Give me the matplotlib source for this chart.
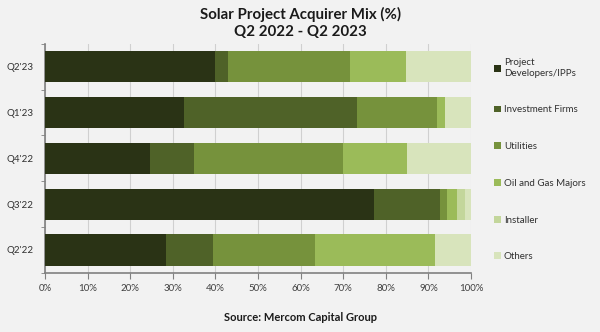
import numpy as np
import matplotlib.pyplot as plt
from matplotlib.ticker import FixedLocator

# Dados (% por trimestre), de baixo para cima
trimestres = ["Q2'22", "Q3'22", "Q4'22", "Q1'23", "Q2'23"]
developers = [28.4, 77.3, 24.6, 32.6, 40.0]
investment = [11.0, 15.4, 10.3, 40.6, 3.0]
utilities = [24.0, 1.7, 35.0, 18.8, 28.6]
oil_gas = [28.2, 2.3, 15.1, 1.8, 13.1]
installer = [0.0, 1.8, 0.0, 0.0, 0.0]
others = [8.4, 1.5, 15.0, 6.2, 15.3]

series = [developers, investment, utilities, oil_gas, installer, others]
nomes = ['Project\nDevelopers/IPPs', 'Investment Firms', 'Utilities',
         'Oil and Gas Majors', 'Installer', 'Others']
cores = ['#2a3315', '#4f6228', '#76923c', '#9bbb59', '#c3d69b', '#d8e4bc']
ticks_x = np.arange(0, 101, 10)

plt.rcParams['font.family'] = ['Lato', 'DejaVu Sans']

fig = plt.figure(figsize=(6, 3.32), dpi=100, facecolor='#f2f2f2')
ax = fig.add_axes([0.075, 0.178, 0.71, 0.69])
ax.set_facecolor('#f2f2f2')

y = np.arange(len(trimestres))
base = np.zeros(len(trimestres))
for vals, nome, cor in zip(series, nomes, cores):
    ax.barh(y, vals, left=base, height=0.68, color=cor, label=nome, zorder=3)
    base += np.array(vals)

ax.set_xlim(0, 100)
ax.set_ylim(-0.5, len(trimestres) - 0.5)
ax.set_xticks(ticks_x)
ax.set_xticklabels([f'{t}%' for t in ticks_x], fontsize=7, color='#404040')
ax.set_yticks(y)
ax.set_yticklabels(trimestres, fontsize=7, color='#303030')
ax.yaxis.set_minor_locator(FixedLocator(np.arange(-0.5, len(trimestres), 1)))
ax.tick_params(axis='y', which='major', length=0, pad=8)
ax.tick_params(axis='y', which='minor', length=3, color='#808080')
ax.tick_params(axis='x', length=4, color='#808080', pad=4)
ax.grid(axis='x', color='#d0d0d0', linewidth=0.8, zorder=0)

for lado in ['top', 'right']:
    ax.spines[lado].set_visible(False)
for lado in ['left', 'bottom']:
    ax.spines[lado].set_color('#808080')
    ax.spines[lado].set_linewidth(1.2)

h, l = ax.get_legend_handles_labels()
ax.legend(h, l, loc='upper left', bbox_to_anchor=(1.034, 0.975), frameon=False,
          fontsize=7, handlelength=0.7, handleheight=0.7, handletextpad=0.3,
          labelspacing=2.85, labelcolor='#303030')

fig.text(0.5, 0.955, 'Solar Project Acquirer Mix (%)', ha='center', va='center',
         fontsize=10.8, fontweight='bold', color='#1a1a1a')
fig.text(0.5, 0.905, 'Q2 2022 - Q2 2023', ha='center', va='center',
         fontsize=10.8, fontweight='bold', color='#1a1a1a')
fig.text(0.5, 0.045, 'Source: Mercom Capital Group', ha='center', va='center',
         fontsize=8, fontweight='bold', color='#1a1a1a')

fig.savefig('out.png', dpi=100, facecolor=fig.get_facecolor())
